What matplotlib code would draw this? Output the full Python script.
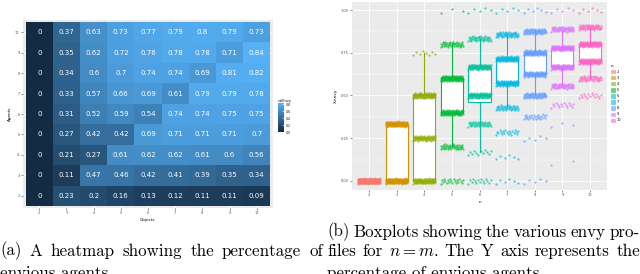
import numpy as np
import matplotlib.pyplot as plt
from matplotlib.colors import LinearSegmentedColormap, Normalize
from matplotlib.cm import ScalarMappable
from matplotlib.patches import Patch

# heatmap data (rows as shown, top = 10 agents)
objects = [2, 3, 4, 5, 6, 7, 8, 9, 10]
agents = [10, 9, 8, 7, 6, 5, 4, 3, 2]
envy = [
    [0, 0.37, 0.63, 0.73, 0.77, 0.79, 0.8, 0.79, 0.73],
    [0, 0.35, 0.62, 0.72, 0.76, 0.78, 0.78, 0.71, 0.84],
    [0, 0.34, 0.6, 0.7, 0.74, 0.74, 0.69, 0.81, 0.82],
    [0, 0.33, 0.57, 0.66, 0.69, 0.61, 0.79, 0.79, 0.78],
    [0, 0.31, 0.52, 0.59, 0.54, 0.74, 0.74, 0.75, 0.75],
    [0, 0.27, 0.42, 0.42, 0.69, 0.71, 0.71, 0.71, 0.7],
    [0, 0.21, 0.27, 0.61, 0.62, 0.62, 0.61, 0.6, 0.56],
    [0, 0.11, 0.47, 0.46, 0.42, 0.41, 0.39, 0.35, 0.34],
    [0, 0.23, 0.2, 0.16, 0.13, 0.12, 0.11, 0.11, 0.09],
]

# boxplot data: n, envy levels and how many agents sit on each level
n_values = [2, 3, 4, 5, 6, 7, 8, 9, 10]
levels = {
    2: [0],
    3: [0, 1/3],
    4: [0, 0.25, 0.5, 0.75],
    5: [0, 0.2, 0.4, 0.6, 0.8, 1.0],
    6: [0, 1/6, 2/6, 3/6, 4/6, 5/6, 1.0],
    7: [0, 1/7, 2/7, 3/7, 4/7, 5/7, 6/7, 1.0],
    8: [0, 2/8, 3/8, 4/8, 5/8, 6/8, 7/8, 1.0],
    9: [1/9, 3/9, 4/9, 5/9, 6/9, 7/9, 8/9, 1.0],
    10: [0.5, 0.6, 0.7, 0.8, 0.9, 1.0],
}
counts = {
    2: [200],
    3: [120, 100],
    4: [80, 60, 80, 8],
    5: [20, 40, 80, 90, 40, 3],
    6: [15, 12, 40, 80, 80, 40, 5],
    7: [6, 6, 20, 40, 80, 80, 50, 5],
    8: [5, 5, 25, 60, 70, 80, 60, 6],
    9: [2, 3, 15, 50, 80, 80, 50, 5],
    10: [15, 40, 80, 80, 50, 6],
}
q1 = [0, 0, 0, 0.4, 0.46, 4/7, 0.625, 6/9, 0.7]
med = [0, 0, 0.25, 0.6, 0.5, 5/7, 0.75, 7/9, 0.8]
q3 = [0, 1/3, 0.5, 0.6, 4/6, 5/7, 0.75, 7/9, 0.8]
whislo = [0, 0, 0, 0.2, 1/6, 3/7, 0.5, 5/9, 0.6]
whishi = [0, 1/3, 0.75, 0.8, 5/6, 6/7, 0.875, 8/9, 0.9]

colors = ['#F8766D', '#D39200', '#93AA00', '#00BA38', '#00C19F',
          '#00B9E3', '#619CFF', '#DB72FB', '#FF61C3']

W, H = 640, 274
fig = plt.figure(figsize=(W / 100, H / 100), dpi=100)
plt.rcParams['mathtext.fontset'] = 'cm'

tick_kw = dict(length=1.5, width=0.4, color='#333333', labelsize=2.5,
               labelcolor='#4D4D4D', pad=1)

# ---- (a) heatmap ----
cmap = LinearSegmentedColormap.from_list('gg', ['#132B43', '#56B1F7'])
norm = Normalize(0, 0.84)
ax1 = fig.add_axes([23 / W, 66 / H, 250 / W, 188 / H])
ax1.set_facecolor('#EBEBEB')
grid = np.array(envy)[::-1]
xe = np.arange(len(objects) + 1) + 0.5
ye = np.arange(len(agents) + 1) + 0.5
ax1.pcolormesh(xe, ye, grid, cmap=cmap, norm=norm, zorder=1)
for i in range(grid.shape[0]):
    for j in range(grid.shape[1]):
        v = grid[i, j]
        ax1.text(j + 1, i + 1, f'{v:g}', color='white', fontsize=5,
                 ha='center', va='center', zorder=2)
ax1.set_xlim(0.4, len(objects) + 0.6)
ax1.set_ylim(0.4, len(agents) + 0.6)
ax1.set_xticks(range(1, len(objects) + 1))
ax1.set_xticklabels(objects)
ax1.set_yticks(range(1, len(agents) + 1))
ax1.set_yticklabels(agents[::-1])
ax1.grid(color='white', lw=0.6)
ax1.set_axisbelow(True)
for s in ax1.spines.values():
    s.set_visible(False)
ax1.tick_params(**tick_kw)
ax1.set_xlabel('Objects', fontsize=3, labelpad=2)
ax1.set_ylabel('Agents', fontsize=3, labelpad=2)

cax = fig.add_axes([278 / W, (H - 132) / H, 6 / W, 29 / H])
cb = fig.colorbar(ScalarMappable(norm=norm, cmap=cmap), cax=cax,
                  ticks=[0, 0.2, 0.4, 0.6, 0.8])
cb.outline.set_visible(False)
cax.tick_params(direction='in', color='white', length=1.5, width=0.4,
                labelsize=2.2, pad=1)
cax.set_yticklabels(['0.0', '0.2', '0.4', '0.6', '0.8'])
cax.set_title('valEnvy', fontsize=2.5, loc='left', pad=1)

# ---- (b) boxplots ----
ax2 = fig.add_axes([352.4 / W, (H - 189.5) / H, 254.2 / W, 188 / H])
ax2.set_facecolor('#EBEBEB')
stats = []
for k in range(len(n_values)):
    stats.append(dict(q1=q1[k], med=med[k], q3=q3[k],
                      whislo=whislo[k], whishi=whishi[k]))
pos = np.arange(1, len(n_values) + 1)
bp = ax2.bxp(stats, positions=pos, widths=0.8, showfliers=False,
             showcaps=False, patch_artist=True)
for k, c in enumerate(colors):
    bp['boxes'][k].set(facecolor='white', edgecolor=c, lw=0.8, zorder=2)
    bp['medians'][k].set(color=c, lw=0.9, zorder=2)
    for w in bp['whiskers'][2 * k:2 * k + 2]:
        w.set(color=c, lw=0.8, zorder=2)

# jittered points, spread evenly across the box width
for k, n in enumerate(n_values):
    for lv, cnt in zip(levels[n], counts[n]):
        idx = np.arange(cnt)
        xs = pos[k] + np.linspace(-0.4, 0.4, cnt)
        ys = lv + ((idx * 0.618) % 1 - 0.5) * 0.03
        ax2.scatter(xs, ys, s=2.6, color=colors[k], alpha=0.7, lw=0,
                    zorder=3)

ax2.set_xlim(0.4, len(n_values) + 0.6)
ax2.set_ylim(-0.05, 1.05)
ax2.set_xticks(pos)
ax2.set_xticklabels(n_values)
ax2.set_yticks([0, 0.25, 0.5, 0.75, 1.0])
ax2.set_yticklabels(['0.00', '0.25', '0.50', '0.75', '1.00'])
ax2.set_yticks([0.125, 0.375, 0.625, 0.875], minor=True)
ax2.grid(which='major', color='white', lw=0.6)
ax2.grid(which='minor', axis='y', color='white', lw=0.3)
ax2.set_axisbelow(True)
ax2.tick_params(which='minor', length=0)
for s in ax2.spines.values():
    s.set_visible(False)
ax2.tick_params(**tick_kw)
ax2.set_xlabel('n', fontsize=3, labelpad=2)
ax2.set_ylabel('X.envy', fontsize=3, labelpad=2)

handles = [Patch(facecolor=c, edgecolor=c, alpha=0.6, lw=0.5) for c in colors]
leg = fig.legend(handles, [str(n) for n in n_values], title='n',
                 loc='upper left', bbox_to_anchor=(609 / W, 1 - 62 / H),
                 frameon=False, fontsize=2.5, title_fontsize=3,
                 handlelength=1.3, handleheight=1.1, labelspacing=0.6,
                 handletextpad=0.4, borderpad=0)
leg._legend_box.align = 'left'

# ---- captions (justified like the LaTeX source) ----
cap = dict(fontfamily='cmr10', fontsize=12.2, va='center', ha='left')
renderer = fig.canvas.get_renderer()


def justified(x0, x1, y, words):
    arts = [fig.text(0, 1 - y / H, w, **cap) for w in words]
    widths = [a.get_window_extent(renderer).width for a in arts]
    gap = (x1 - x0 - sum(widths)) / (len(words) - 1)
    x = x0
    for a, w in zip(arts, widths):
        a.set_x(x / W)
        x += w + gap


justified(0, 323, 251, '(a) A heatmap showing the percentage of'.split())
fig.text(0, 1 - 273 / H, 'envious agents.', **cap)
justified(327, 640, 232, '(b) Boxplots showing the various envy pro-'.split())
justified(327, 640, 251, ['files', 'for', '$n = m$.', 'The', 'Y', 'axis',
                          'represents', 'the'])
fig.text(327 / W, 1 - 273 / H, 'percentage of envious agents.', **cap)

fig.savefig('out.png', dpi=100)
